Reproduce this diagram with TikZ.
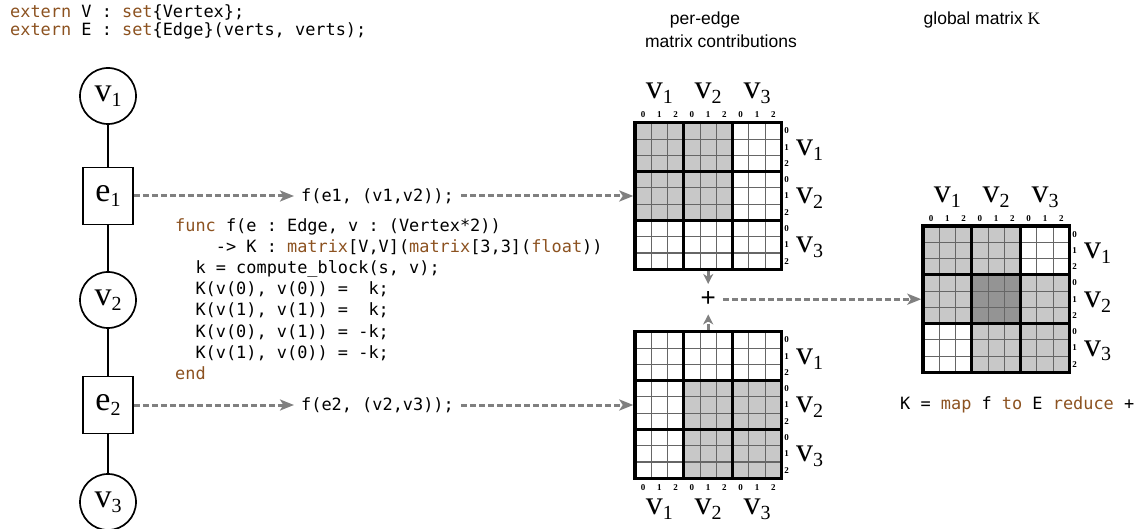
\documentclass[tikz,border=0pt]{standalone}
\usepackage{fontspec}
\setmonofont{DejaVu Sans Mono}
\newfontfamily\serifv{Liberation Serif}
\newfontfamily\sanshead{Liberation Sans}
\usetikzlibrary{arrows.meta}

\definecolor{kwbrown}{RGB}{140,82,32}
\definecolor{flowgray}{RGB}{128,128,128}
\definecolor{cellgray}{RGB}{200,200,200}
\definecolor{celldark}{RGB}{148,148,148}

\newcommand{\kw}[1]{\textcolor{kwbrown}{#1}}
\newcommand{\vsub}[2]{{\serifv\fontsize{34}{34}\selectfont #1\raisebox{-5pt}{\fontsize{20}{20}\selectfont #2}}}

% block matrix: name, left, top, shaded blocks, digit row y, label base y
\newcommand{\blockmat}[6]{%
  \node[inner sep=0pt, minimum size=146.4pt] (#1) at (#2+73.2,#3+73.2) {};
  \begin{scope}[shift={(#2,#3)}]
    \foreach \rw/\cl/\fc in {#4}
      \fill[\fc] (\cl*48.8,\rw*48.8) rectangle ++(48.8,48.8);
    \foreach \nn in {1,2,4,5,7,8} {
      \draw[cellline] (\nn*16.27,0) -- (\nn*16.27,146.4);
      \draw[cellline] (0,\nn*16.27) -- (146.4,\nn*16.27);
    }
    \foreach \nn in {1,2} {
      \draw[blockline] (\nn*48.8,0) -- (\nn*48.8,146.4);
      \draw[blockline] (0,\nn*48.8) -- (146.4,\nn*48.8);
    }
    \draw[blockline] (0,0) rectangle (146.4,146.4);
    \foreach \bk in {1,2,3} {
      \foreach \dg in {0,1,2} {
        \node[idx] (#1-c\bk\dg) at (\bk*48.8-40.67+\dg*16.27,#5) {\dg};
        \node[idx] (#1-r\bk\dg) at (151.5,\bk*48.8-40.67+\dg*16.27) {\dg};
      }
      \node[vlab, anchor=base] (#1-cv\bk) at (\bk*48.8-24.4,#6) {\vsub{v}{\bk}};
      \node[vlab, anchor=base west] (#1-rv\bk) at (161,\bk*48.8-16.4) {\vsub{v}{\bk}};
    }
  \end{scope}}

\tikzset{
  vert/.style={draw, circle, line width=1.7pt, minimum size=56pt, inner sep=0pt},
  edgebox/.style={draw, rectangle, line width=1.7pt, minimum width=50pt, minimum height=57pt, inner sep=0pt},
  link/.style={line width=2.5pt},
  flow/.style={draw=flowgray, line width=3pt, dash pattern=on 6pt off 3pt,
    -{Stealth[length=14pt, width=11pt, inset=3.5pt]}},
  code/.style={font=\ttfamily\fontsize{16.9}{21.1}\selectfont, align=left, inner sep=0pt},
  cellline/.style={black!60, line width=1.1pt},
  blockline/.style={black, line width=3.2pt},
  idx/.style={font=\serifv\bfseries\fontsize{9}{9}\selectfont, inner sep=0pt},
  vlab/.style={inner sep=0pt, text height=16pt, text depth=8pt},
  head/.style={font=\sanshead\fontsize{17.5}{17.5}\selectfont, inner sep=0pt}
}

\begin{document}
\begin{tikzpicture}[x=1pt, y=-1pt]
  \useasboundingbox (0,0) rectangle (1141,529);

  % declarations
  \node[code, anchor=north west, font=\ttfamily\fontsize{16.9}{18.3}\selectfont] (decl) at (10,4)
    {\kw{extern} V : \kw{set}\{Vertex\};\\
     \kw{extern} E : \kw{set}\{Edge\}(verts, verts);};

  % mesh graph
  \node[vert] (v1) at (108,96) {\vsub{v}{1}};
  \node[edgebox] (e1) at (108,196) {\vsub{e}{1}};
  \node[vert] (v2) at (108,300) {\vsub{v}{2}};
  \node[edgebox] (e2) at (108,405) {\vsub{e}{2}};
  \node[vert] (v3) at (108,502) {\vsub{v}{3}};
  \draw[link] (v1) -- (e1) -- (v2) -- (e2) -- (v3);

  % per-edge function
  \node[code, anchor=north west] (fdef) at (175,218.5)
    {\kw{func} f(e : Edge, v : (Vertex*2))\\
     \phantom{0000}-> K : \kw{matrix}[V,V](\kw{matrix}[3,3](\kw{float}))\\
     \phantom{00}k = compute\_block(s, v);\\
     \phantom{00}K(v(0), v(0)) =\ \ k;\\
     \phantom{00}K(v(1), v(1)) =\ \ k;\\
     \phantom{00}K(v(0), v(1)) = -k;\\
     \phantom{00}K(v(1), v(0)) = -k;\\
     \kw{end}};

  \node[code, anchor=west, inner xsep=7pt] (f1) at (294,196) {f(e1, (v1,v2));};
  \node[code, anchor=west, inner xsep=7pt] (f2) at (294,405) {f(e2, (v2,v3));};

  % matrices
  \blockmat{topm}{635}{122.8}{0/0/cellgray,0/1/cellgray,1/0/cellgray,1/1/cellgray}{-8}{-24}
  \blockmat{botm}{635}{331.8}{1/1/cellgray,1/2/cellgray,2/1/cellgray,2/2/cellgray}{155.4}{182.4}
  \blockmat{glob}{923}{226}{0/0/cellgray,0/1/cellgray,1/0/cellgray,1/1/celldark,1/2/cellgray,2/1/cellgray,2/2/cellgray}{-7}{-23}

  \node[head, minimum size=30pt, font=\sanshead\fontsize{26}{26}\selectfont] (plus) at (708.2,299.2) {+};

  % titles
  \node[head] (pe1) at (705,20) {per-edge};
  \node[head] (pe2) at (721,41) {matrix contributions};
  \node[head] (gm) at (982,20) {global matrix {\serifv K}};
  \node[code, anchor=west] (kred) at (900,405)
    {K = \kw{map} f \kw{to} E \kw{reduce} +};

  % flow of contributions
  \draw[flow] (e1.east) -- (f1.west);
  \draw[flow] (f1.east) -- ([xshift=-1.5pt]topm.west);
  \draw[flow] (e2.east) -- (f2.west);
  \draw[flow] (f2.east) -- ([xshift=-1.5pt]botm.west);
  \draw[flow, -{Stealth[length=10pt, width=10pt, inset=3pt]}] ([yshift=-1.5pt]topm.south) -- (plus.north);
  \draw[flow, -{Stealth[length=10pt, width=10pt, inset=3pt]}] ([yshift=1.5pt]botm.north) -- (plus.south);
  \draw[flow] (plus.east) -- ([xshift=-1.5pt]glob.west);
\end{tikzpicture}
\end{document}
